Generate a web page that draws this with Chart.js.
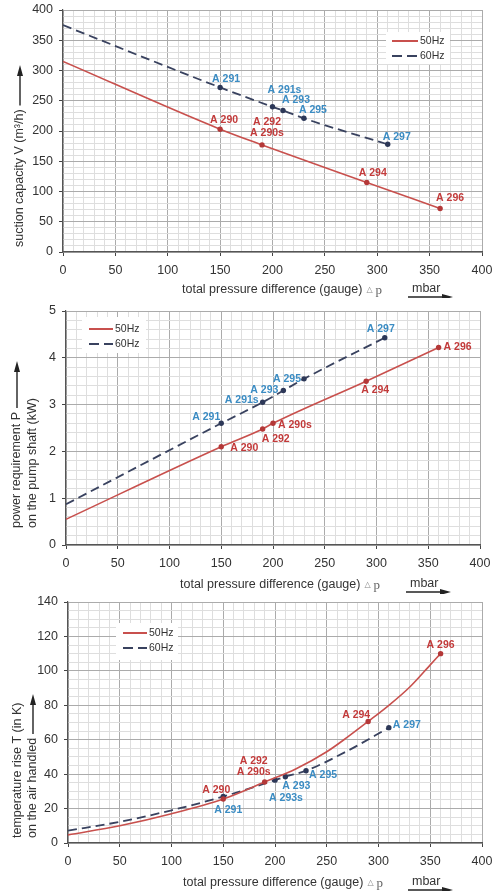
<!DOCTYPE html>
<html>
<head>
<meta charset="utf-8">
<script src="https://cdn.jsdelivr.net/npm/chart.js@4.4.0/dist/chart.umd.min.js"></script>
<style>
  html, body { margin: 0; padding: 0; background: #fff; }
  canvas { display: block; }
</style>
</head>
<body>
<canvas id="capacityChart" width="493" height="298"></canvas>
<canvas id="powerChart" width="493" height="296"></canvas>
<canvas id="tempChart" width="493" height="297"></canvas>
<script>
// ---------- data ----------
const capacityX50 = [0, 150, 190, 290, 360];
const capacityY50 = [315, 203, 177, 115, 72];
const capacityTags50 = [null, ["A 290"], ["A 292", "A 290s"], ["A 294"], ["A 296"]];
const capacityX60 = [0, 150, 200, 210, 230, 310];
const capacityY60 = [375, 272, 240, 234, 221, 178];
const capacityTags60 = [null, ["A 291"], ["A 291s"], ["A 293"], ["A 295"], ["A 297"]];

const powerX50 = [0, 150, 190, 200, 290, 360];
const powerY50 = [0.55, 2.1, 2.48, 2.6, 3.5, 4.22];
const powerTags50 = [null, ["A 290"], ["A 292"], ["A 290s"], ["A 294"], ["A 296"]];
const powerX60 = [0, 150, 190, 210, 230, 308];
const powerY60 = [0.87, 2.6, 3.05, 3.3, 3.55, 4.43];
const powerTags60 = [null, ["A 291"], ["A 291s"], ["A 293"], ["A 295"], ["A 297"]];

const tempX50 = [0, 50, 100, 150, 190, 220, 250, 270, 290, 310, 330, 350, 360];
const tempY50 = [4.7, 10, 17, 25.6, 35.4, 43, 53, 61.5, 70.6, 80, 90.5, 103.5, 110];
const tempTags50 = [null, null, null, ["A 290"], ["A 292", "A 290s"], null, null, null, ["A 294"], null, null, null, ["A 296"]];
const tempX60 = [0, 50, 100, 150, 200, 210, 230, 270, 310];
const tempY60 = [7.2, 12.3, 19, 27, 36.5, 38.5, 42, 53.5, 67];
const tempTags60 = [null, null, null, ["A 291"], ["A 293s"], ["A 293"], ["A 295"], null, ["A 297"]];

const seriesNames = ["50Hz", "60Hz"];
const xTickStep = 10;
const xLabelStep = 50;

// ---------- placement of the point tags: [dx, dy, align] ----------
const capacityPos50 = [null, [4, -9, "center"], [5, -23, "center"], [6, -9, "center"], [10, -10, "center"]];
const capacityPos60 = [null, [6, -8, "center"], [12, -17, "center"], [13, -10, "center"], [9, -8, "center"], [9, -7, "center"]];
const powerPos50 = [null, [9, 1, "left"], [13, 10, "center"], [5, 2, "left"], [9, 9, "center"], [5, 0, "left"]];
const powerPos60 = [null, [-1, -6, "right"], [-4, -2, "right"], [-5, 0, "right"], [-3, 0, "right"], [-4, -9, "center"]];
const tempPos50 = [null, null, null, [-7, -9, "center"], [-11, -21, "center"], null, null, null, [-12, -6, "center"], null, null, null, [0, -9, "center"]];
const tempPos60 = [null, null, null, [5, 14, "center"], [11, 18, "center"], [11, 9, "center"], [3, 4, "left"], null, [4, -3, "left"]];

const FONT = "'Liberation Sans', Arial, sans-serif";
const COLORS = {
  red: "#c8504d",
  redPoint: "#b43838",
  redText: "#c23a3a",
  navy: "#39425f",
  navyPoint: "#2d3858",
  blueText: "#3b8cc3",
  gridMinor: "#dedede",
  gridMajor: "#ababab",
  text: "#333",
};

function toPoints(xs, ys) {
  return xs.map((x, i) => ({ x: x, y: ys[i] }));
}

function isMultiple(value, step) {
  const r = value / step;
  return Math.abs(r - Math.round(r)) < 1e-6;
}

function drawArrow(ctx, x1, y1, x2, y2) {
  const ang = Math.atan2(y2 - y1, x2 - x1);
  ctx.save();
  ctx.strokeStyle = "#222";
  ctx.fillStyle = "#222";
  ctx.lineWidth = 1.4;
  ctx.beginPath();
  ctx.moveTo(x1, y1);
  ctx.lineTo(x2 - 6 * Math.cos(ang), y2 - 6 * Math.sin(ang));
  ctx.stroke();
  ctx.translate(x2, y2);
  ctx.rotate(ang);
  ctx.beginPath();
  ctx.moveTo(0, 0);
  ctx.lineTo(-11, -3);
  ctx.lineTo(-11, 3);
  ctx.closePath();
  ctx.fill();
  ctx.restore();
}

function makeChart(canvasId, cfg) {
  const canvas = document.getElementById(canvasId);
  const area = cfg.area;

  const series = [
    { xs: cfg.x50, ys: cfg.y50, tags: cfg.tags50, pos: cfg.pos50, line: COLORS.red, point: COLORS.redPoint, text: COLORS.redText, dash: [], width: 1.6 },
    { xs: cfg.x60, ys: cfg.y60, tags: cfg.tags60, pos: cfg.pos60, line: COLORS.navy, point: COLORS.navyPoint, text: COLORS.blueText, dash: [9, 5], width: 1.8 },
  ];

  const decorations = {
    id: "decorations",
    beforeDatasetsDraw(chart) {
      // legend box inside the plot
      const c = chart.ctx;
      const lg = cfg.legend;
      c.save();
      c.fillStyle = "#fff";
      c.fillRect(lg.box[0], lg.box[1], lg.box[2], lg.box[3]);
      series.forEach((s, i) => {
        const y = lg.rows[i];
        c.strokeStyle = s.line;
        c.lineWidth = 2;
        c.setLineDash(i === 0 ? [] : [10, 5]);
        c.beginPath();
        c.moveTo(lg.x1, y);
        c.lineTo(lg.x2, y);
        c.stroke();
        c.setLineDash([]);
        c.fillStyle = COLORS.text;
        c.font = "10.5px " + FONT;
        c.textBaseline = "middle";
        c.textAlign = "left";
        c.fillText(seriesNames[i], lg.x2 + 2, y);
      });
      c.restore();
    },
    afterDatasetsDraw(chart) {
      const c = chart.ctx;
      c.save();
      c.font = "bold 10.5px " + FONT;
      c.textBaseline = "middle";
      series.forEach((s, di) => {
        const meta = chart.getDatasetMeta(di);
        s.tags.forEach((tag, i) => {
          if (!tag) return;
          const el = meta.data[i];
          const p = s.pos[i];
          c.fillStyle = s.text;
          c.textAlign = p[2];
          tag.forEach((line, li) => {
            c.fillText(line, el.x + p[0], el.y + p[1] + li * 11);
          });
        });
      });
      c.restore();
    },
    afterDraw(chart) {
      const c = chart.ctx;
      c.save();
      c.fillStyle = COLORS.text;
      c.font = "12.5px " + FONT;
      c.textBaseline = "middle";

      // x axis title
      const xt = cfg.xTitle;
      c.textAlign = "left";
      const main = "total pressure difference (gauge)";
      c.fillText(main, xt.x, xt.y);
      const w = c.measureText(main).width;
      c.fillStyle = "#888";
      c.font = "8px 'DejaVu Sans', sans-serif";
      c.fillText("△", xt.x + w + 4, xt.y);
      c.fillStyle = "#666";
      c.font = "13px 'Liberation Serif', serif";
      c.fillText("p", xt.x + w + 13, xt.y + 1);
      c.fillStyle = COLORS.text;
      c.font = "12.5px " + FONT;
      c.fillText("mbar", xt.unitX, xt.y - 1);
      drawArrow(c, xt.unitX - 4, xt.y + 7, xt.unitX + 41, xt.y + 7);

      // y axis title, rotated, with upward arrow after one line
      const yt = cfg.yTitle;
      yt.lines.forEach((line, i) => {
        c.save();
        c.translate(yt.xs[i], yt.start);
        c.rotate(-Math.PI / 2);
        c.textAlign = "left";
        c.fillText(line, 0, 0);
        const lw = c.measureText(line).width;
        c.restore();
        if (i === yt.arrowLine) {
          const yEnd = yt.start - lw - 4;
          drawArrow(c, yt.xs[i], yEnd, yt.xs[i], yt.arrowTop);
        }
      });
      c.restore();
    },
  };

  return new Chart(canvas, {
    type: "line",
    data: {
      datasets: series.map((s, i) => ({
        label: seriesNames[i],
        data: toPoints(s.xs, s.ys),
        borderColor: s.line,
        backgroundColor: s.point,
        borderWidth: s.width,
        borderDash: s.dash,
        pointRadius: (ctx) => (s.tags[ctx.dataIndex] ? 2.7 : 0),
        pointBorderWidth: 0,
        pointHoverRadius: 0,
        cubicInterpolationMode: "monotone",
        fill: false,
      })),
    },
    options: {
      responsive: false,
      animation: false,
      events: [],
      layout: {
        padding: { left: 0, top: area.top, right: 493 - area.right, bottom: 0 },
      },
      plugins: {
        legend: { display: false },
        tooltip: { enabled: false },
      },
      scales: {
        x: {
          type: "linear",
          min: 0,
          max: 400,
          afterFit: (scale) => {
            scale.height = canvas.height - area.bottom;
            scale.paddingLeft = 0;
            scale.paddingRight = 0;
          },
          border: { color: "#555", width: 1.2 },
          grid: {
            color: (ctx) => (ctx.tick && isMultiple(ctx.tick.value, xLabelStep) ? COLORS.gridMajor : COLORS.gridMinor),
            tickColor: (ctx) => (ctx.tick && isMultiple(ctx.tick.value, xLabelStep) ? "#444" : "rgba(0,0,0,0)"),
            tickLength: 4,
            lineWidth: 1,
          },
          ticks: {
            stepSize: xTickStep,
            maxTicksLimit: 100,
            autoSkip: false,
            maxRotation: 0,
            minRotation: 0,
            padding: 7,
            color: COLORS.text,
            font: { family: FONT, size: 12.5 },
            callback: (v) => (isMultiple(v, xLabelStep) ? String(v) : ""),
          },
        },
        y: {
          type: "linear",
          min: 0,
          max: cfg.yMax,
          afterFit: (scale) => {
            scale.width = area.left;
            scale.paddingTop = 0;
            scale.paddingBottom = 0;
          },
          border: { color: "#555", width: 1.2 },
          grid: {
            color: (ctx) => (ctx.tick && isMultiple(ctx.tick.value, cfg.yLabelStep) ? COLORS.gridMajor : COLORS.gridMinor),
            tickColor: (ctx) => (ctx.tick && isMultiple(ctx.tick.value, cfg.yLabelStep) ? "#444" : "rgba(0,0,0,0)"),
            tickLength: 4,
            lineWidth: 1,
          },
          ticks: {
            stepSize: cfg.yTickStep,
            maxTicksLimit: 100,
            autoSkip: false,
            padding: 6,
            color: COLORS.text,
            font: { family: FONT, size: 12.5 },
            callback: (v) => (isMultiple(v, cfg.yLabelStep) ? String(Math.round(v)) : ""),
          },
        },
      },
    },
    plugins: [decorations],
  });
}

makeChart("capacityChart", {
  area: { left: 63, top: 10, right: 482, bottom: 252 },
  yMax: 400, yTickStep: 10, yLabelStep: 50,
  x50: capacityX50, y50: capacityY50, tags50: capacityTags50, pos50: capacityPos50,
  x60: capacityX60, y60: capacityY60, tags60: capacityTags60, pos60: capacityPos60,
  legend: { box: [386, 32, 64, 32], x1: 392, x2: 418, rows: [41, 56] },
  xTitle: { x: 182, y: 290, unitX: 412 },
  yTitle: { lines: ["suction capacity V (m³/h)"], xs: [20], start: 247, arrowLine: 0, arrowTop: 65 },
});

makeChart("powerChart", {
  area: { left: 66, top: 13, right: 480, bottom: 247 },
  yMax: 5, yTickStep: 0.2, yLabelStep: 1,
  x50: powerX50, y50: powerY50, tags50: powerTags50, pos50: powerPos50,
  x60: powerX60, y60: powerY60, tags60: powerTags60, pos60: powerPos60,
  legend: { box: [82, 19, 64, 36], x1: 89, x2: 113, rows: [31, 46] },
  xTitle: { x: 180, y: 287, unitX: 410 },
  yTitle: { lines: ["power requirement P", "on the pump shaft (kW)"], xs: [17, 33], start: 230, arrowLine: 0, arrowTop: 63 },
});

makeChart("tempChart", {
  area: { left: 68, top: 8, right: 482, bottom: 249 },
  yMax: 140, yTickStep: 5, yLabelStep: 20,
  x50: tempX50, y50: tempY50, tags50: tempTags50, pos50: tempPos50,
  x60: tempX60, y60: tempY60, tags60: tempTags60, pos60: tempPos60,
  legend: { box: [116, 29, 62, 37], x1: 123, x2: 147, rows: [39, 54] },
  xTitle: { x: 183, y: 289, unitX: 412 },
  yTitle: { lines: ["temperature rise T (in K)", "on the air handled"], xs: [18, 33], start: 244, arrowLine: 1, arrowTop: 100 },
});
</script>
</body>
</html>
